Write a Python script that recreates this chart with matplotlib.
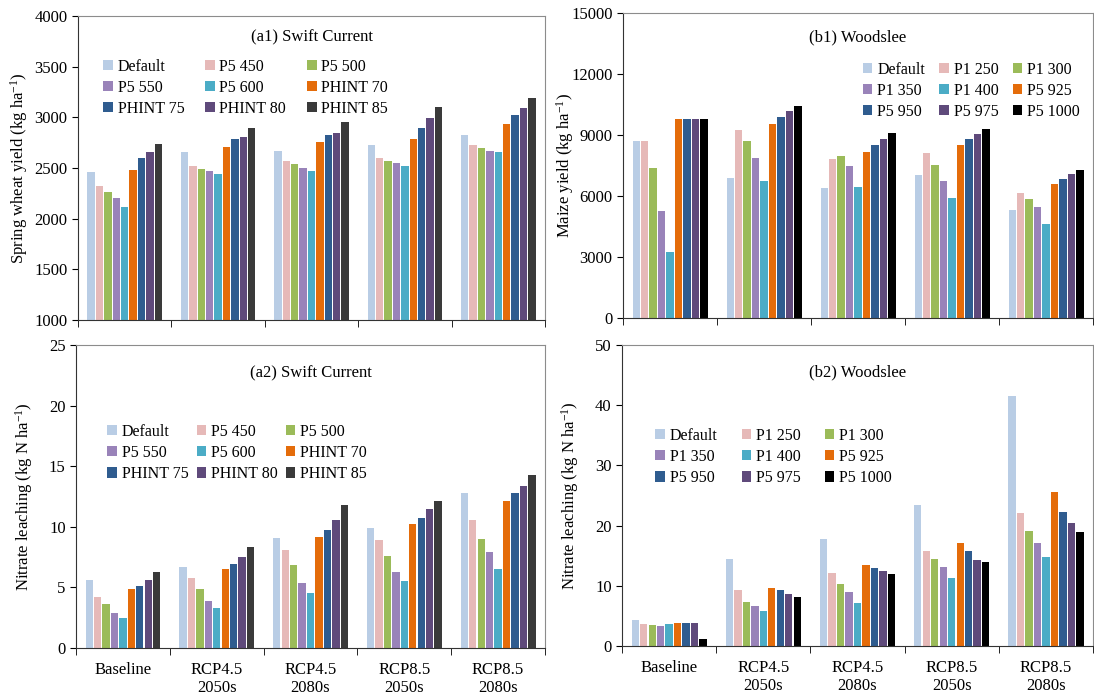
import numpy as np
import matplotlib
matplotlib.use("Agg")
import matplotlib.pyplot as plt

plt.rcParams["font.family"] = ["Liberation Serif", "DejaVu Serif"]
plt.rcParams["mathtext.fontset"] = "custom"
plt.rcParams["mathtext.rm"] = "Liberation Serif"
plt.rcParams["mathtext.it"] = "Liberation Serif:italic"

periods = ["Baseline", "RCP4.5\n2050s", "RCP4.5\n2080s", "RCP8.5\n2050s", "RCP8.5\n2080s"]

wheat_cultivars = ["Default", "P5 450", "P5 500", "P5 550", "P5 600",
                   "PHINT 70", "PHINT 75", "PHINT 80", "PHINT 85"]
maize_cultivars = ["Default", "P1 250", "P1 300", "P1 350", "P1 400",
                   "P5 925", "P5 950", "P5 975", "P5 1000"]

wheat_colors = ["#b9cde5", "#e6b9b8", "#9bbb59", "#9983b9", "#4bacc6",
                "#e46c0a", "#2f5c8f", "#5f4a7b", "#3a3a3a"]
maize_colors = wheat_colors[:-1] + ["#000000"]

# rows = cultivars, columns = periods
wheat_yield = [
    [2460, 2655, 2670, 2730, 2825],
    [2325, 2525, 2570, 2595, 2730],
    [2265, 2495, 2535, 2570, 2700],
    [2200, 2470, 2505, 2545, 2670],
    [2120, 2445, 2470, 2520, 2655],
    [2485, 2705, 2755, 2790, 2935],
    [2595, 2790, 2825, 2900, 3025],
    [2660, 2805, 2850, 2995, 3095],
    [2740, 2900, 2950, 3105, 3195],
]

maize_yield = [
    [8700, 6880, 6380, 7020, 5300],
    [8700, 9230, 7800, 8100, 6160],
    [7380, 8690, 7980, 7510, 5870],
    [5250, 7880, 7480, 6720, 5440],
    [3230, 6720, 6460, 5920, 4610],
    [9780, 9540, 8180, 8520, 6590],
    [9800, 9880, 8520, 8820, 6840],
    [9800, 10160, 8820, 9070, 7100],
    [9800, 10410, 9100, 9310, 7300],
]

wheat_leach = [
    [5.6, 6.65, 9.1, 9.9, 12.8],
    [4.25, 5.75, 8.05, 8.9, 10.6],
    [3.6, 4.9, 6.85, 7.6, 9.0],
    [2.85, 3.85, 5.4, 6.25, 7.95],
    [2.45, 3.3, 4.55, 5.55, 6.55],
    [4.85, 6.5, 9.2, 10.2, 12.1],
    [5.1, 6.9, 9.7, 10.75, 12.8],
    [5.6, 7.5, 10.6, 11.45, 13.35],
    [6.25, 8.35, 11.8, 12.15, 14.25],
]

maize_leach = [
    [4.3, 14.5, 17.8, 23.4, 41.6],
    [3.6, 9.3, 12.2, 15.8, 22.1],
    [3.5, 7.3, 10.3, 14.4, 19.1],
    [3.3, 6.6, 9.0, 13.1, 17.1],
    [3.6, 5.8, 7.1, 11.3, 14.8],
    [3.9, 9.6, 13.4, 17.2, 25.6],
    [3.8, 9.3, 13.0, 15.8, 22.2],
    [3.8, 8.7, 12.5, 14.3, 20.5],
    [1.1, 8.1, 12.0, 14.0, 18.9],
]


def draw_panel(ax, values, names, colors, title, title_y, ylabel, label_x,
               ylim, yticks, legend_anchor, colspace, xlabels):
    x = np.arange(len(periods))
    slot = 0.09
    for i, (vals, name, col) in enumerate(zip(values, names, colors)):
        offset = (i - 4) * slot
        ax.bar(x + offset, vals, width=0.078, color=col, label=name,
               edgecolor="none", zorder=2)
    ax.set_xlim(-0.5, len(periods) - 0.5)
    ax.set_ylim(*ylim)
    ax.set_yticks(yticks)
    ax.set_xticks(x)
    ax.set_xticks(np.arange(-0.5, len(periods)), minor=True)
    ax.tick_params(axis="x", which="major", length=0, labelsize=12, pad=10)
    ax.tick_params(axis="x", which="minor", length=5, direction="out")
    ax.tick_params(axis="y", labelsize=12, length=4, direction="out")
    if xlabels:
        ax.set_xticklabels(periods)
    else:
        ax.set_xticklabels([])
    ax.set_ylabel(ylabel, fontsize=12)
    ax.yaxis.set_label_coords(label_x, 0.5)
    ax.text(0.5, title_y, title, transform=ax.transAxes, ha="center",
            va="center", fontsize=12)
    for side in ("top", "right"):
        ax.spines[side].set_color("#8c8c8c")
    for side in ("left", "bottom"):
        ax.spines[side].set_color("#333333")
    # legend is filled row by row in the original
    handles, labels = ax.get_legend_handles_labels()
    order = [0, 3, 6, 1, 4, 7, 2, 5, 8]
    ax.legend([handles[k] for k in order], [labels[k] for k in order],
              ncol=3, loc="upper left", bbox_to_anchor=legend_anchor,
              frameon=False, fontsize=11.5, handlelength=0.6, handleheight=0.6,
              handletextpad=0.3, columnspacing=colspace, labelspacing=0.32,
              borderaxespad=0, borderpad=0)


fig = plt.figure(figsize=(10.94, 6.98), dpi=100)

ax_a1 = fig.add_axes([0.0713, 0.5415, 0.4269, 0.4355])
draw_panel(ax_a1, wheat_yield, wheat_cultivars, wheat_colors,
           "(a1) Swift Current", 0.93, "Spring wheat yield (kg ha$^{-1}$)",
           -0.103, (1000, 4000), range(1000, 4001, 500), (0.054, 0.86),
           1.3, False)

ax_b1 = fig.add_axes([0.5695, 0.5444, 0.4296, 0.4370])
draw_panel(ax_b1, maize_yield, maize_cultivars, maize_colors,
           "(b1) Woodslee", 0.92, "Maize yield (kg ha$^{-1}$)",
           -0.10, (0, 15000), range(0, 15001, 3000), (0.51, 0.84),
           0.9, False)

ax_a2 = fig.add_axes([0.0695, 0.0716, 0.4287, 0.4340])
draw_panel(ax_a2, wheat_leach, wheat_cultivars, wheat_colors,
           "(a2) Swift Current", 0.907, "Nitrate leaching (kg N ha$^{-1}$)",
           -0.087, (0, 25), range(0, 26, 5), (0.067, 0.74), 0.5, True)

ax_b2 = fig.add_axes([0.5686, 0.0745, 0.4305, 0.4310])
draw_panel(ax_b2, maize_leach, maize_cultivars, maize_colors,
           "(b2) Woodslee", 0.91, "Nitrate leaching (kg N ha$^{-1}$)",
           -0.087, (0, 50), range(0, 51, 10), (0.071, 0.725), 1.5, True)

fig.savefig("out.png", dpi=100)
